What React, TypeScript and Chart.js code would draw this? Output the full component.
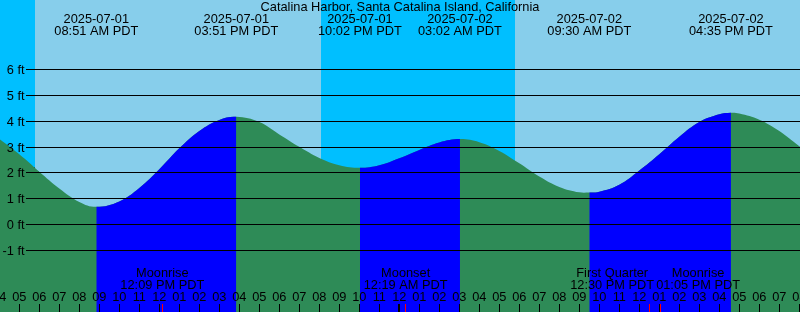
import { useEffect, useRef } from 'react';
import { Chart, registerables } from 'chart.js';

Chart.register(...registerables);

// ---- data (hours counted from 2025-07-01 00:00 PDT) ----
const tideHours = [4, 5, 6, 7, 8, 8.85, 10, 11, 12, 13, 14, 15, 15.85, 17, 18, 19, 20, 21, 22.033, 23, 24, 25, 26, 27.033, 28, 29, 30, 31, 32, 33, 33.5, 34, 35, 36, 37, 38, 39, 40, 40.583, 41, 42, 43, 44, 44.5];
const tideFeet = [3.31, 2.72, 2.05, 1.4, 0.88, 0.69, 0.9, 1.42, 2.14, 2.95, 3.62, 4.05, 4.17, 3.97, 3.49, 3.01, 2.58, 2.3, 2.2, 2.3, 2.57, 2.89, 3.18, 3.31, 3.19, 2.85, 2.37, 1.86, 1.46, 1.25, 1.24, 1.27, 1.54, 2.09, 2.72, 3.4, 3.97, 4.27, 4.33, 4.3, 4.06, 3.62, 3.03, 2.75];

const tideEventHours = [8.85, 15.85, 22.033, 27.033, 33.5, 40.583];
const tideEventDates = ['2025-07-01', '2025-07-01', '2025-07-01', '2025-07-02', '2025-07-02', '2025-07-02'];
const tideEventClock = ['08:51 AM PDT', '03:51 PM PDT', '10:02 PM PDT', '03:02 AM PDT', '09:30 AM PDT', '04:35 PM PDT'];

const moonEventHours = [12.15, 24.317, 36.5, 37.083];
const moonEventNames = ['Moonrise', 'Moonset', 'First Quarter', 'Moonrise'];
const moonEventClock = ['12:09 PM PDT', '12:19 AM PDT', '12:30 PM PDT', '01:05 PM PDT'];

const nightStartHours = [0, 20.085];
const nightEndHours = [5.785, 29.785];

const levelTicks = [-1, 0, 1, 2, 3, 4, 5, 6];

const hourTicks = [4, 5, 6, 7, 8, 9, 10, 11, 12, 13, 14, 15, 16, 17, 18, 19, 20, 21, 22, 23, 24, 25, 26, 27, 28, 29, 30, 31, 32, 33, 34, 35, 36, 37, 38, 39, 40, 41, 42, 43, 44];
const hourLabels = ['04', '05', '06', '07', '08', '09', '10', '11', '12', '01', '02', '03', '04', '05', '06', '07', '08', '09', '10', '11', '12', '01', '02', '03', '04', '05', '06', '07', '08', '09', '10', '11', '12', '01', '02', '03', '04', '05', '06', '07', '08'];
const midnightHours = [24];

const markHour = [5.735];
const markFeet = [2.055];

const titleText = 'Catalina Harbor, Santa Catalina Island, California';

// ---- view ----
const X_MIN = 4.035;
const X_MAX = 44.035;
const Y_MIN = -3.378;
const Y_MAX = 8.688;

const DAY = '#87CEEB';
const NIGHT = '#00BFFF';
const GREEN = '#2E8B57';
const BLUE = '#0000FF';
const FONT = '12.8px "Liberation Sans", Arial, sans-serif';

const decor = {
  id: 'tideDecor',
  beforeDatasetsDraw(chart: any) {
    const { ctx, chartArea, scales } = chart;
    const x = scales.x;
    ctx.save();
    ctx.fillStyle = DAY;
    ctx.fillRect(chartArea.left, chartArea.top, chartArea.right - chartArea.left, chartArea.bottom - chartArea.top);
    ctx.fillStyle = NIGHT;
    for (let i = 0; i < nightStartHours.length; i++) {
      const a = Math.round(Math.max(chartArea.left, x.getPixelForValue(nightStartHours[i])));
      const b = Math.round(Math.min(chartArea.right, x.getPixelForValue(nightEndHours[i])));
      if (b > a) ctx.fillRect(a, chartArea.top, b - a, chartArea.bottom - chartArea.top);
    }
    ctx.restore();
  },
  afterDatasetsDraw(chart: any) {
    const { ctx, chartArea, scales } = chart;
    const x = scales.x;
    const y = scales.y;
    ctx.save();
    ctx.strokeStyle = '#000';
    ctx.lineWidth = 1;
    ctx.fillStyle = '#000';
    ctx.font = FONT;
    ctx.textAlign = 'right';
    ctx.textBaseline = 'middle';
    for (const v of levelTicks) {
      const py = Math.round(y.getPixelForValue(v) - 0.5) + 0.5;
      ctx.beginPath();
      ctx.moveTo(26, py);
      ctx.lineTo(chartArea.right, py);
      ctx.stroke();
      ctx.fillText(`${v} ft`, 24.5, py + 0.5);
    }
    ctx.textAlign = 'center';
    ctx.fillText(titleText, (chartArea.left + chartArea.right) / 2, 7.5);
    for (let i = 0; i < tideEventHours.length; i++) {
      const px = x.getPixelForValue(tideEventHours[i]);
      ctx.fillText(tideEventDates[i], px, 19.5);
      ctx.fillText(tideEventClock[i], px, 31.5);
    }
    const items = moonEventHours.map((h, i) => {
      const w = Math.max(ctx.measureText(moonEventNames[i]).width, ctx.measureText(moonEventClock[i]).width);
      const px = x.getPixelForValue(h);
      return { px, cx: px, w, i };
    });
    items.sort((a, b) => a.px - b.px);
    for (let k = 1; k < items.length; k++) {
      const l = items[k - 1];
      const r = items[k];
      const need = (l.w + r.w) / 2 + 2;
      if (r.cx - l.cx < need) {
        const mid = (l.cx + r.cx) / 2;
        l.cx = mid - need / 2;
        r.cx = mid + need / 2;
      }
    }
    for (const it of items) {
      ctx.fillText(moonEventNames[it.i], it.cx, 273.5);
      ctx.fillText(moonEventClock[it.i], it.cx, 285);
    }
    for (let i = 0; i < hourTicks.length; i++) {
      const px = x.getPixelForValue(hourTicks[i]);
      ctx.fillText(hourLabels[i], px, 297.5);
      ctx.fillRect(Math.floor(px), 304, 1, 8);
    }
    for (const h of midnightHours) {
      const px = x.getPixelForValue(h);
      ctx.fillRect(Math.floor(px) - 1, 304, 2, 8);
    }
    ctx.fillStyle = '#FF0000';
    for (const h of moonEventHours) {
      const px = x.getPixelForValue(h);
      ctx.fillRect(Math.floor(px), 304, 1, 8);
    }
    ctx.restore();
  },
};

export default function App() {
  const ref = useRef<HTMLCanvasElement>(null);
  useEffect(() => {
    document.body.style.margin = '0';
    const canvas = ref.current;
    if (!canvas) return;
    const points = tideHours.map((h, i) => ({ x: h, y: tideFeet[i] }));
    const chart = new Chart(canvas, {
      type: 'line',
      data: {
        datasets: [
          {
            // rising (flood) overlay, drawn on top
            data: points,
            borderColor: 'rgba(0,0,0,0)',
            borderWidth: 1,
            backgroundColor: 'rgba(0,0,0,0)',
            fill: 'start',
            pointRadius: 0,
            tension: 0.4,
            segment: {
              backgroundColor: (c: any) => (c.p1.parsed.y > c.p0.parsed.y ? BLUE : 'rgba(0,0,0,0)'),
            },
          } as any,
          {
            // base (ebb) fill
            data: points,
            borderColor: 'rgba(0,0,0,0)',
            borderWidth: 1,
            backgroundColor: GREEN,
            fill: 'start',
            pointRadius: 0,
            tension: 0.4,
          } as any,
          {
            type: 'scatter',
            data: markHour.map((h, i) => ({ x: h, y: markFeet[i] })),
            pointStyle: 'cross',
            pointRadius: 4.5,
            borderColor: '#000',
            borderWidth: 1,
            showLine: false,
          } as any,
        ],
      },
      options: {
        responsive: false,
        animation: false,
        devicePixelRatio: 1,
        events: [],
        layout: { padding: 0, autoPadding: false },
        scales: {
          x: { type: 'linear', min: X_MIN, max: X_MAX, display: false },
          y: { type: 'linear', min: Y_MIN, max: Y_MAX, display: false },
        },
        plugins: {
          legend: { display: false },
          tooltip: { enabled: false },
          title: { display: false },
        },
      },
      plugins: [decor],
    } as any);
    return () => chart.destroy();
  }, []);
  return (
    <div style={{ position: 'fixed', left: 0, top: 0, width: 800, height: 312 }}>
      <canvas ref={ref} width={800} height={312} style={{ display: 'block' }} />
    </div>
  );
}
